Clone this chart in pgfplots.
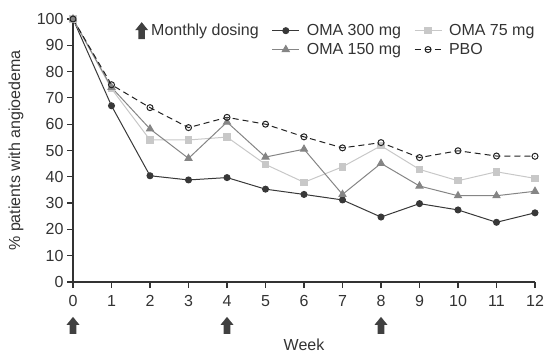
\documentclass[border=0pt]{standalone}
\usepackage{pgfplots}
\pgfplotsset{compat=1.18}
\usepackage{fontspec}
\setmainfont{Liberation Sans}
\definecolor{txt}{HTML}{333333}
\definecolor{c300}{HTML}{383838}
\definecolor{c150}{HTML}{858585}
\definecolor{c75}{HTML}{C8C8C8}
\definecolor{cpbo}{HTML}{222222}
\definecolor{arr}{HTML}{404040}
\pgfdeclareplotmark{uparrow}{%
 \pgfpathmoveto{\pgfqpoint{0bp}{8.5bp}}%
 \pgfpathlineto{\pgfqpoint{6.5bp}{0.5bp}}%
 \pgfpathlineto{\pgfqpoint{3.3bp}{0.5bp}}%
 \pgfpathlineto{\pgfqpoint{3.3bp}{-8.5bp}}%
 \pgfpathlineto{\pgfqpoint{-3.3bp}{-8.5bp}}%
 \pgfpathlineto{\pgfqpoint{-3.3bp}{0.5bp}}%
 \pgfpathlineto{\pgfqpoint{-6.5bp}{0.5bp}}%
 \pgfpathclose
 \pgfusepathqfill}
\newcommand{\ff}{\fontsize{16bp}{19bp}\selectfont}
\pgfplotsset{
 arrowleg/.style={legend image code/.code={\draw[##1] plot coordinates {(6.5bp,0bp)};}},
 lineleg/.style={legend image code/.code={\draw[mark repeat=2,mark phase=2,##1] plot coordinates {(0bp,0bp)(13.5bp,0bp)(27bp,0bp)}; \path (31bp,0bp);}},
}
\begin{document}
\begin{tikzpicture}
\useasboundingbox (-73bp,-74bp) rectangle (473bp,282bp);
\begin{axis}[
 at={(0,0)}, anchor=south west,
 scale only axis, width=462bp, height=263bp,
 xmin=0, xmax=12, ymin=0, ymax=100,
 clip=false,
 axis x line=bottom, axis y line=left,
 axis line style={-, txt, line width=1.2bp},
 every outer x axis line/.append style={-},
 every outer y axis line/.append style={-},
 xtick={0,...,12}, ytick={0,10,...,100},
 tick align=outside, major tick length=6bp,
 tick style={txt, line width=1.2bp},
 /pgf/number format/assume math mode=true,
 tick label style={font=\ff, text=txt},
 xticklabel style={yshift=-4bp},
 xlabel={Week}, ylabel={\% patients with angioedema},
 every axis x label/.style={at={(axis description cs:0.5,0)}, yshift=-63bp, anchor=center, font=\ff, text=txt},
 every axis y label/.style={at={(axis description cs:0,0.5)}, xshift=-57bp, rotate=90, anchor=center, font=\ff, text=txt},
 legend columns=3,
 legend style={at={(rel axis cs:0,1)}, anchor=north west, xshift=59bp, yshift=-1bp,
   draw=none, fill=none, font=\ff, text=txt, nodes={inner xsep=3bp, inner ysep=1bp}, row sep=3bp,
   /tikz/every even column/.append style={column sep=10bp}},
 legend cell align=left,
 lineleg,
]
\addplot[only marks, mark=uparrow, arr, arrowleg]
 coordinates {(0,-16.5)(4,-16.5)(8,-16.5)};
\addlegendentry{Monthly dosing}
\addplot[c300, line width=1bp, mark=*, mark size=3bp]
 coordinates {(0,100)(1,67)(2,40.4)(3,38.8)(4,39.7)(5,35.3)(6,33.3)(7,31.2)(8,24.7)(9,29.8)(10,27.4)(11,22.7)(12,26.3)};
\addlegendentry{OMA 300 mg}
\addplot[c75, line width=1bp, mark=square*, mark size=3.2bp]
 coordinates {(0,100)(1,73.5)(2,54)(3,54)(4,55.1)(5,44.7)(6,37.9)(7,43.8)(8,51.8)(9,42.8)(10,38.5)(11,41.9)(12,39.4)};
\addlegendentry{OMA 75 mg}
\addlegendimage{empty legend}
\addlegendentry{}
\addplot[c150, line width=1bp, mark=triangle*, mark size=4bp]
 coordinates {(0,100)(1,74)(2,58.2)(3,47)(4,60.8)(5,47.5)(6,50.5)(7,33.3)(8,45.1)(9,36.5)(10,32.8)(11,32.8)(12,34.5)};
\addlegendentry{OMA 150 mg}
\addplot[cpbo, line width=1bp, dash pattern=on 6bp off 4bp, mark=o, mark size=3bp, mark options={solid, fill=white}]
 coordinates {(0,100)(1,75)(2,66.3)(3,58.7)(4,62.6)(5,60)(6,55.2)(7,51)(8,53)(9,47.3)(10,49.9)(11,47.9)(12,47.8)};
\addlegendentry{PBO}
\end{axis}
\end{tikzpicture}
\end{document}
